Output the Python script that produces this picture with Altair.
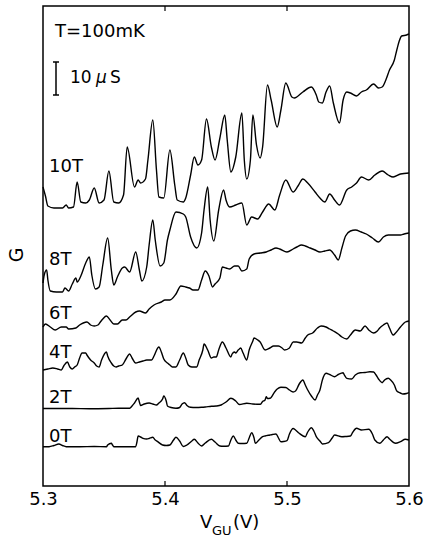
import altair as alt
import pandas as pd

v_10T = [5.300, 5.302, 5.304, 5.309, 5.316, 5.319, 5.321, 5.325, 5.328, 5.331, 5.335, 5.338, 5.342, 5.346,
         5.350, 5.354, 5.358, 5.362, 5.366, 5.369, 5.375, 5.378, 5.380, 5.384, 5.386, 5.390, 5.393, 5.395,
         5.399, 5.404, 5.408, 5.410, 5.415, 5.417, 5.421, 5.424, 5.427, 5.430, 5.434, 5.438, 5.441, 5.445,
         5.449, 5.451, 5.454, 5.458, 5.463, 5.465, 5.467, 5.470, 5.472, 5.475, 5.478, 5.480, 5.484, 5.487,
         5.492, 5.495, 5.499, 5.504, 5.506, 5.513, 5.520, 5.524, 5.526, 5.529, 5.532, 5.535, 5.538, 5.543,
         5.546, 5.549, 5.552, 5.557, 5.561, 5.565, 5.571, 5.575, 5.578, 5.581, 5.584, 5.588, 5.590, 5.592,
         5.594, 5.598, 5.600]
g_10T = [299, 290, 280, 278, 278, 281, 278, 279, 304, 284, 283, 286, 298, 283,
         286, 315, 284, 283, 291, 339, 299, 306, 303, 307, 326, 366, 316, 289,
         288, 336, 301, 286, 284, 288, 311, 329, 321, 326, 367, 339, 326, 348,
         371, 346, 314, 329, 373, 326, 307, 326, 371, 341, 328, 339, 401, 386,
         359, 376, 403, 389, 388, 394, 399, 391, 384, 383, 394, 400, 383, 363,
         386, 394, 393, 390, 394, 396, 402, 398, 399, 406, 416, 426, 436, 445,
         450, 451, 452]

v_8T = [5.300, 5.301, 5.303, 5.304, 5.306, 5.311, 5.316, 5.318, 5.321, 5.324, 5.327, 5.328, 5.331, 5.335,
        5.338, 5.340, 5.343, 5.346, 5.349, 5.353, 5.356, 5.358, 5.361, 5.365, 5.367, 5.371, 5.376, 5.379,
        5.381, 5.385, 5.387, 5.390, 5.392, 5.396, 5.399, 5.402, 5.404, 5.409, 5.415, 5.417, 5.421, 5.426,
        5.430, 5.432, 5.435, 5.437, 5.440, 5.444, 5.448, 5.450, 5.453, 5.458, 5.463, 5.467, 5.471, 5.476,
        5.480, 5.485, 5.490, 5.494, 5.499, 5.505, 5.509, 5.513, 5.517, 5.523, 5.527, 5.531, 5.535, 5.539,
        5.543, 5.549, 5.553, 5.557, 5.561, 5.567, 5.572, 5.578, 5.583, 5.587, 5.593, 5.600]
g_8T = [203, 211, 216, 206, 195, 194, 194, 198, 195, 202, 208, 204, 210, 223,
        229, 211, 197, 199, 221, 248, 216, 201, 209, 218, 219, 214, 234, 216,
        205, 219, 241, 266, 246, 220, 223, 246, 256, 274, 272, 269, 249, 238,
        253, 276, 299, 266, 245, 276, 296, 286, 279, 281, 283, 261, 269, 267,
        274, 282, 276, 291, 306, 294, 300, 307, 303, 294, 288, 284, 292, 286,
        281, 296, 299, 303, 309, 306, 311, 315, 311, 309, 312, 313]

v_6T = [5.300, 5.302, 5.306, 5.310, 5.315, 5.319, 5.321, 5.327, 5.330, 5.333, 5.336, 5.339, 5.342, 5.345,
        5.347, 5.349, 5.352, 5.355, 5.358, 5.361, 5.365, 5.368, 5.371, 5.376, 5.379, 5.384, 5.387, 5.391,
        5.397, 5.400, 5.404, 5.409, 5.413, 5.417, 5.420, 5.423, 5.427, 5.430, 5.433, 5.436, 5.439, 5.441,
        5.445, 5.447, 5.450, 5.453, 5.457, 5.460, 5.463, 5.467, 5.469, 5.473, 5.478, 5.483, 5.487, 5.491,
        5.494, 5.500, 5.505, 5.508, 5.512, 5.515, 5.519, 5.523, 5.527, 5.531, 5.535, 5.539, 5.542, 5.545,
        5.548, 5.552, 5.556, 5.561, 5.565, 5.570, 5.575, 5.579, 5.583, 5.588, 5.593, 5.596, 5.600]
g_6T = [159, 162, 159, 156, 159, 159, 157, 158, 161, 163, 164, 161, 160, 161,
        164, 167, 170, 166, 162, 162, 166, 166, 169, 174, 175, 173, 177, 181,
        184, 186, 186, 192, 200, 199, 198, 196, 196, 206, 215, 210, 199, 202,
        208, 219, 218, 217, 220, 220, 215, 217, 227, 232, 233, 234, 236, 238,
        237, 234, 237, 239, 241, 240, 238, 236, 234, 235, 236, 231, 226, 238,
        250, 255, 256, 254, 252, 248, 244, 249, 251, 251, 251, 252, 253]

v_4T = [5.300, 5.304, 5.308, 5.312, 5.315, 5.317, 5.320, 5.322, 5.324, 5.326, 5.328, 5.330, 5.332, 5.335,
        5.336, 5.339, 5.342, 5.344, 5.346, 5.348, 5.352, 5.353, 5.356, 5.358, 5.360, 5.362, 5.365, 5.368,
        5.371, 5.373, 5.376, 5.379, 5.382, 5.385, 5.389, 5.391, 5.394, 5.395, 5.397, 5.399, 5.402, 5.404,
        5.406, 5.409, 5.412, 5.415, 5.417, 5.419, 5.422, 5.426, 5.428, 5.431, 5.432, 5.435, 5.438, 5.440,
        5.442, 5.444, 5.447, 5.450, 5.454, 5.455, 5.457, 5.458, 5.460, 5.461, 5.462, 5.464, 5.467, 5.469,
        5.472, 5.473, 5.476, 5.478, 5.482, 5.486, 5.489, 5.493, 5.496, 5.498, 5.502, 5.505, 5.508, 5.512,
        5.515, 5.517, 5.521, 5.525, 5.528, 5.532, 5.535, 5.538, 5.542, 5.545, 5.549, 5.552, 5.556, 5.560,
        5.564, 5.567, 5.571, 5.574, 5.576, 5.579, 5.582, 5.584, 5.587, 5.589, 5.593, 5.597, 5.600]
g_4T = [116, 117, 118, 117, 116, 120, 124, 119, 117, 119, 121, 128, 133, 133,
        131, 126, 123, 120, 119, 126, 134, 130, 123, 120, 119, 120, 121, 127,
        132, 128, 123, 124, 125, 126, 126, 130, 138, 139, 134, 127, 123, 121,
        119, 119, 126, 133, 128, 121, 119, 119, 126, 136, 142, 136, 128, 129,
        129, 136, 144, 138, 129, 132, 134, 133, 136, 137, 138, 133, 126, 136,
        145, 148, 146, 144, 136, 138, 140, 140, 138, 136, 138, 144, 144, 143,
        148, 151, 153, 158, 160, 159, 157, 155, 152, 149, 147, 151, 156, 155,
        160, 156, 153, 155, 158, 161, 163, 158, 151, 153, 159, 164, 165]

v_2T = [5.300, 5.313, 5.324, 5.338, 5.354, 5.362, 5.371, 5.373, 5.375, 5.378, 5.379, 5.380, 5.383, 5.387,
        5.390, 5.393, 5.395, 5.398, 5.399, 5.401, 5.402, 5.405, 5.409, 5.412, 5.414, 5.416, 5.418, 5.421,
        5.425, 5.430, 5.433, 5.438, 5.442, 5.446, 5.450, 5.454, 5.458, 5.461, 5.467, 5.472, 5.478, 5.480,
        5.482, 5.483, 5.484, 5.486, 5.490, 5.492, 5.495, 5.499, 5.502, 5.505, 5.507, 5.510, 5.513, 5.515,
        5.517, 5.520, 5.523, 5.525, 5.527, 5.529, 5.532, 5.535, 5.539, 5.542, 5.546, 5.547, 5.549, 5.553,
        5.556, 5.560, 5.564, 5.568, 5.571, 5.573, 5.575, 5.578, 5.580, 5.583, 5.585, 5.588, 5.590, 5.593,
        5.595, 5.598, 5.600]
g_2T = [77.5, 77.5, 77.5, 77.3, 77.5, 77.7, 77.7, 80, 83, 88, 84, 80.5, 82, 83,
        82, 81, 83, 87, 90, 85, 80, 78.5, 77.7, 78.5, 82, 83.3, 80.5, 78.7,
        78.5, 78.7, 79, 79.7, 80, 81, 84, 87.7, 85, 81.5, 82.7, 82, 81.7, 84.5,
        86, 89.3, 87.5, 87.7, 94.3, 97, 98.7, 98.5, 96, 94, 95, 102, 106, 101,
        96, 90, 86, 91, 96, 106, 112.7, 111.5, 109.3, 111.5, 113.3, 111, 107.7, 107,
        111, 113.3, 113.5, 114.3, 114, 111, 107, 103.3, 106, 107.7, 106, 101, 95, 93,
        92, 92.5, 93.3]

v_0T = [5.300, 5.305, 5.309, 5.313, 5.316, 5.319, 5.330, 5.342, 5.352, 5.353, 5.356, 5.357, 5.358, 5.367,
        5.376, 5.377, 5.378, 5.380, 5.382, 5.385, 5.387, 5.390, 5.392, 5.394, 5.398, 5.401, 5.404, 5.407,
        5.409, 5.412, 5.415, 5.418, 5.422, 5.424, 5.427, 5.430, 5.433, 5.438, 5.441, 5.445, 5.448, 5.452,
        5.454, 5.456, 5.458, 5.460, 5.463, 5.467, 5.469, 5.471, 5.473, 5.474, 5.477, 5.480, 5.482, 5.486,
        5.488, 5.491, 5.493, 5.495, 5.497, 5.500, 5.502, 5.505, 5.507, 5.510, 5.515, 5.517, 5.520, 5.522,
        5.524, 5.527, 5.529, 5.534, 5.537, 5.539, 5.545, 5.548, 5.552, 5.554, 5.557, 5.561, 5.567, 5.570,
        5.572, 5.576, 5.579, 5.582, 5.584, 5.589, 5.593, 5.597, 5.600]
g_0T = [39.3, 39.3, 40.5, 42, 40.5, 39.3, 39.3, 39.5, 39.3, 41, 42.7, 41, 39.3, 39.3,
        39.3, 44, 50, 49, 47.7, 47, 47.5, 48.7, 46, 44.3, 41, 40.5, 41, 46,
        48.7, 45, 39.5, 41, 45, 46.7, 43, 40, 43, 46.7, 44, 40, 39.7, 40,
        46, 50, 46, 42.7, 42.5, 42.7, 48, 53.3, 48, 42.7, 46, 49.3, 50, 51,
        51.5, 52, 48, 44.3, 44.5, 45.3, 52, 57.5, 56, 52.7, 49.3, 54, 58.3, 55,
        49.3, 45, 42, 43.3, 48, 51, 49.3, 49.5, 50, 54, 57.7, 56, 56.7, 52,
        46, 42.7, 46, 49.3, 47, 42.7, 44.3, 46.7, 46]

trace_names = ["10T", "8T", "6T", "4T", "2T", "0T"]
trace_v = [v_10T, v_8T, v_6T, v_4T, v_2T, v_0T]
trace_g = [g_10T, g_8T, g_6T, g_4T, g_2T, g_0T]

# label positions (in data units) for the field labels
label_v = [5.305, 5.305, 5.305, 5.305, 5.305, 5.305]
label_g = [314, 221, 167, 128, 83, 44]

tick_values = [5.3, 5.4, 5.5, 5.6]
inner_ticks = [5.4, 5.5]

rows = []
for name, vs, gs in zip(trace_names, trace_v, trace_g):
    for v, g in zip(vs, gs):
        rows.append({"field": name, "V": v, "G": g})
df = pd.DataFrame(rows)
labels_df = pd.DataFrame({"field": trace_names, "V": label_v, "G": label_g})
ticks_df = pd.DataFrame({"V": inner_ticks})

FONT = "DejaVu Sans"
xs = alt.Scale(domain=[5.3, 5.6], nice=False, zero=False)
ys = alt.Scale(domain=[0, 480], nice=False, zero=False)

lines = alt.Chart(df).mark_line(color="black", strokeWidth=1.4, interpolate="monotone").encode(
    x=alt.X("V:Q", scale=xs,
            axis=alt.Axis(values=tick_values, format=".1f", ticks=False, domain=False, grid=False,
                          labelFont=FONT, labelFontSize=18, labelColor="black", labelPadding=4,
                          labelFlush=False, title=None)),
    y=alt.Y("G:Q", scale=ys, axis=None),
    detail="field:N",
)

labels = alt.Chart(labels_df).mark_text(font=FONT, fontSize=18, align="left", baseline="alphabetic",
                                        color="black").encode(
    x=alt.X("V:Q", scale=xs), y=alt.Y("G:Q", scale=ys), text="field:N")

top_ticks = alt.Chart(ticks_df).mark_rule(color="black", strokeWidth=1.2).encode(
    x=alt.X("V:Q", scale=xs), y=alt.value(0), y2=alt.value(5))
bot_ticks = alt.Chart(ticks_df).mark_rule(color="black", strokeWidth=1.2).encode(
    x=alt.X("V:Q", scale=xs), y=alt.value(475), y2=alt.value(480))

def txt(s, x, y, size=18, style="normal", angle=0):
    kw = dict(font=FONT, fontSize=size, align="left", baseline="alphabetic", color="black", fontStyle=style)
    if angle:
        kw["angle"] = angle
        kw["align"] = "center"
        kw["baseline"] = "middle"
    return alt.Chart(pd.DataFrame({"t": [s]})).mark_text(**kw).encode(
        x=alt.value(x), y=alt.value(y), text="t:N")

temp = txt("T=100mK", 12, 31)
bar = alt.Chart(pd.DataFrame({"a": [0]})).mark_rule(color="black", strokeWidth=1.5).encode(
    x=alt.value(13), y=alt.value(56), y2=alt.value(89))
cap1 = alt.Chart(pd.DataFrame({"a": [0]})).mark_rule(color="black", strokeWidth=1.5).encode(
    x=alt.value(10), x2=alt.value(16), y=alt.value(56))
cap2 = alt.Chart(pd.DataFrame({"a": [0]})).mark_rule(color="black", strokeWidth=1.5).encode(
    x=alt.value(10), x2=alt.value(16), y=alt.value(89))
s10 = txt("10", 27, 77, size=17)
smu = txt("μ", 53, 77, size=17, style="italic")
sS = txt("S", 67, 77, size=17)

xt1 = txt("V", 157, 522)
xt2 = txt("GU", 169, 529, size=13)
xt3 = txt("(V)", 190, 522)
gt = txt("G", -26, 249, size=19, angle=270)

chart = alt.layer(lines, labels, top_ticks, bot_ticks, temp, bar, cap1, cap2, s10, smu, sS,
                  xt1, xt2, xt3, gt).properties(
    width=366, height=480,
    autosize=alt.AutoSizeParams(type="none"),
    padding={"left": 43, "top": 6, "right": 16, "bottom": 54},
    background="white",
).configure_view(stroke="black", strokeWidth=1.5)

chart.save("out.html", embed_options={"renderer": "svg", "actions": False})
